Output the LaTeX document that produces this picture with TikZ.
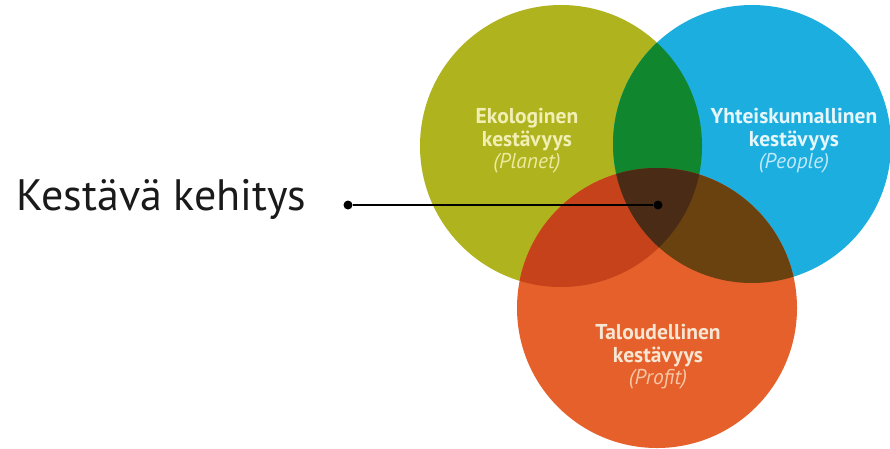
\documentclass[tikz,border=0pt]{standalone}
\usepackage{fontspec}
\setmainfont{PT Sans}
\usetikzlibrary{positioning}
\definecolor{ekocol}{HTML}{AFB31D}
\definecolor{peocol}{HTML}{1BAEDF}
\definecolor{procol}{HTML}{E5602A}
\definecolor{epcol}{HTML}{10862F}
\definecolor{efcol}{HTML}{C5421A}
\definecolor{pfcol}{HTML}{6A4210}
\definecolor{allcol}{HTML}{4A2C16}
\definecolor{ekotxt}{HTML}{F2EFB5}
\definecolor{ekosub}{HTML}{EDE9A0}
\definecolor{peotxt}{HTML}{E6F6FB}
\definecolor{peosub}{HTML}{BFE8F8}
\definecolor{protxt}{HTML}{F7E6D4}
\definecolor{prosub}{HTML}{F6C7A6}
\definecolor{maintxt}{HTML}{1A1A1A}
\tikzset{
  circtext/.style={align=center, font=\fontsize{21.5}{22.5}\selectfont\bfseries},
  dot/.style={circle, fill=black, inner sep=0pt, minimum size=9pt}
}
\begin{document}
\begin{tikzpicture}[x=1pt, y=-1pt]
\useasboundingbox (0,0) rectangle (890,448);
\coordinate (eko) at (561,146);
\coordinate (peo) at (752,144);
\coordinate (pro) at (657,308);
% circles
\fill[ekocol] (eko) circle (141);
\fill[peocol] (peo) circle (139);
\fill[procol] (pro) circle (140);
% overlaps
\begin{scope}
  \clip (eko) circle (141);
  \fill[epcol] (peo) circle (139);
  \fill[efcol] (pro) circle (140);
\end{scope}
\begin{scope}
  \clip (peo) circle (139);
  \fill[pfcol] (pro) circle (140);
\end{scope}
\begin{scope}
  \clip (eko) circle (141);
  \clip (peo) circle (139);
  \fill[allcol] (pro) circle (140);
\end{scope}
% texts
\node[circtext, text=ekotxt] (ekot) at (527,141)
  {Ekologinen\\kestävyys\\{\mdseries\itshape\color{ekosub}(Planet)}};
\node[circtext, text=peotxt] (peot) at (794,141)
  {Yhteiskunnallinen\\kestävyys\\{\mdseries\itshape\color{peosub}(People)}};
\node[circtext, text=protxt] (prot) at (658,357)
  {Taloudellinen\\kestävyys\\{\mdseries\itshape\color{prosub}(Profit)}};
% pointer
\node[dot] (dl) at (348,205) {};
\node[dot] (dr) at (658,205) {};
\draw[line width=1.2pt] (dl) -- (dr);
\node[anchor=east, font=\fontsize{44}{48}\selectfont, text=maintxt] (kest) at (310,199) {Kestävä kehitys};
\end{tikzpicture}
\end{document}
